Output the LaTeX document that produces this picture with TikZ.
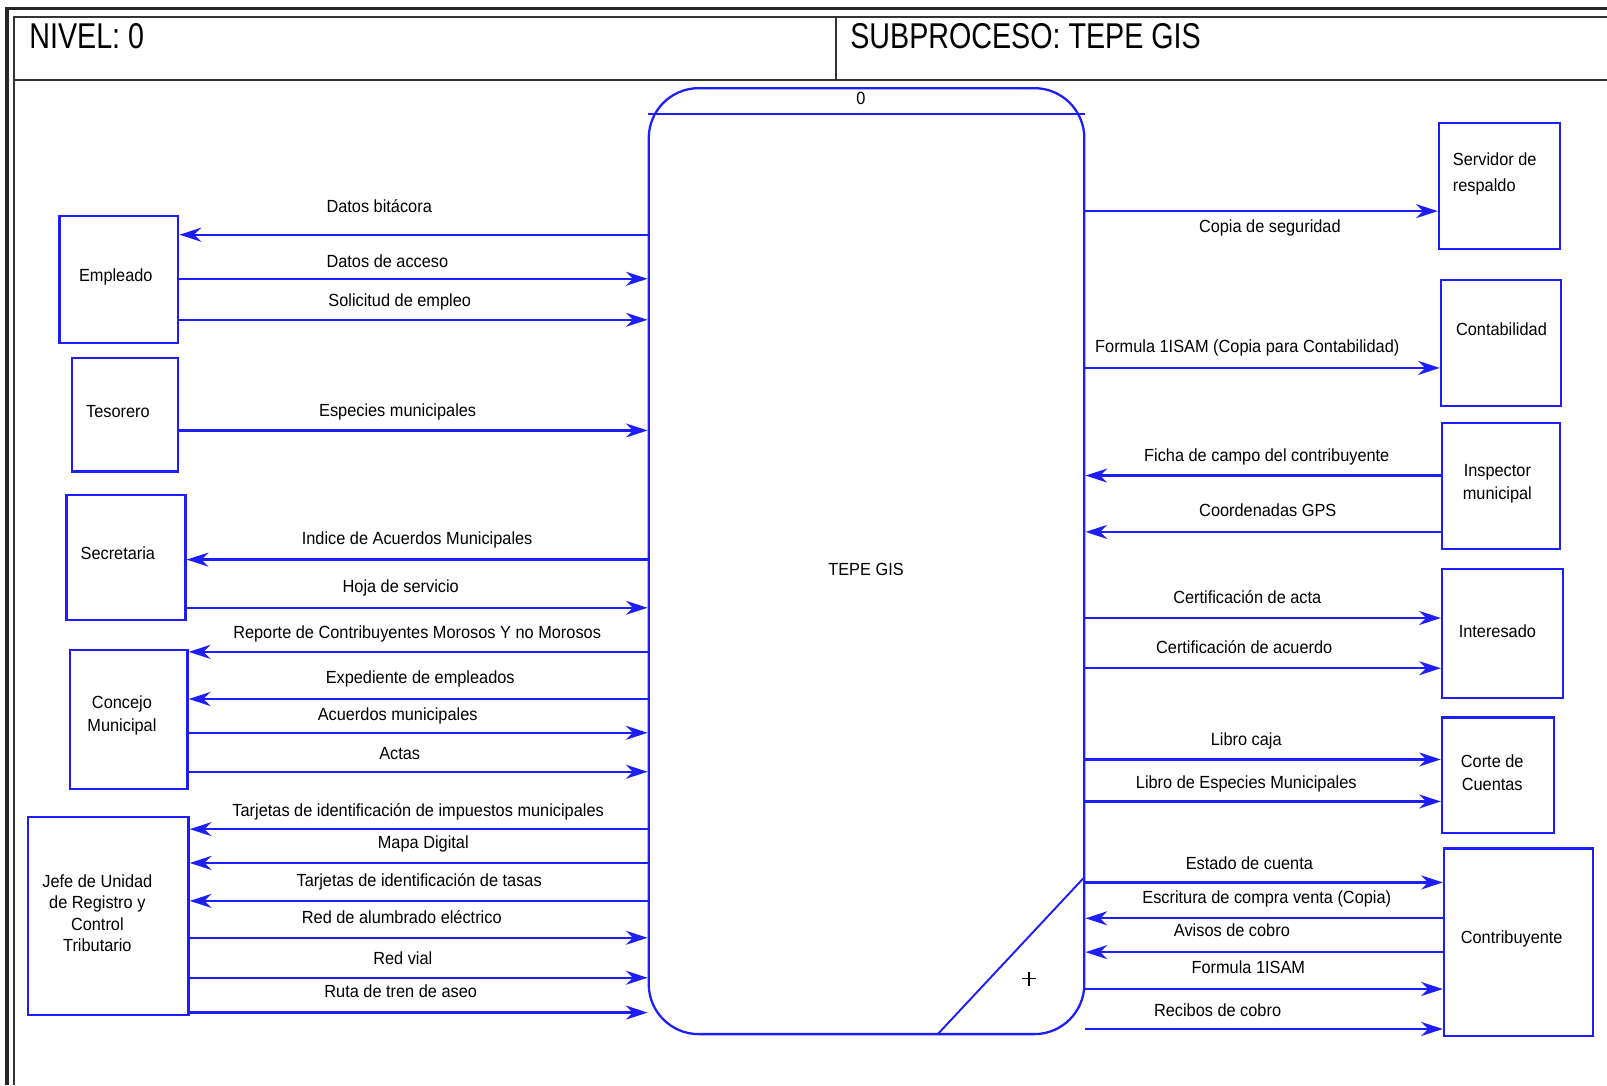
\documentclass[tikz,border=0pt]{standalone}
\usepackage{fontspec}
\setmainfont{Liberation Sans}[FakeStretch=0.93]
\newfontfamily\headfont{Liberation Sans}[FakeStretch=0.80]
\usetikzlibrary{arrows.meta,fit}
\definecolor{dfdblue}{RGB}{30,30,250}

\begin{document}
\begin{tikzpicture}[x=0.010249cm,y=-0.010249cm,
  ent/.style={draw=dfdblue,line width=0.65pt,inner sep=0pt},
  proc/.style={draw=dfdblue,line width=0.65pt,inner sep=0pt,rounded corners=0.5cm},
  etxt/.style={font=\fontsize{5}{6.7}\selectfont,align=center,inner sep=0pt},
  flab/.style={font=\fontsize{5}{6}\selectfont,inner sep=0pt,anchor=base},
  flow/.style={draw=dfdblue,line width=0.65pt,-{Stealth[length=6.2pt,width=4pt,inset=2pt]}},
  frameo/.style={draw=black!85,line width=0.9pt},
  framei/.style={draw=black!80,line width=0.6pt},
  head/.style={font=\headfont\fontsize{10.2}{12}\selectfont,inner sep=0pt,anchor=base west}]

\useasboundingbox (0,0) rectangle (1568,1059);

% sheet frame and header
\draw[frameo] (1568,8.3) -- (6.8,8.3) -- (6.8,1059);
\draw[framei] (1568,17) -- (13.3,17) -- (13.3,1059);
\draw[framei] (13.3,78) -- (1568,78);
\draw[framei] (816,17) -- (816,78);
\node[head] (nivel) at (28,47) {NIVEL: 0};
\node[head] (subp) at (829,47) {SUBPROCESO: TEPE GIS};

% central process
\node[proc,fit={(633,86)(1058,1009)}] (proc) {};
\draw[draw=dfdblue,line width=0.65pt] (632,111) -- (1059,111);
\draw[draw=dfdblue,line width=0.55pt] (915,1009) -- (1057,857);
\node[etxt] (pnum) at (840,96) {0};
\node[etxt] (pname) at (845,556) {TEPE GIS};
\draw[black,line width=0.4pt] (997,955) -- (1011,955) (1004,948) -- (1004,962);

% external entities, left
\node[ent,fit={(58,211)(174,335)}] (emp) {};
\node[ent,fit={(70,349)(174,460)}] (tes) {};
\node[ent,fit={(65,483)(181,605)}] (sec) {};
\node[ent,fit={(68,634)(183,770)}] (con) {};
\node[ent,fit={(27,797)(184,990)}] (jef) {};
\node[etxt] (empt) at (113,270) {Empleado};
\node[etxt] (test) at (115,402) {Tesorero};
\node[etxt] (sect) at (115,540) {Secretaria};
\node[etxt] (cont) at (119,698) {Concejo\\Municipal};
\node[etxt,font=\fontsize{5}{6.1}\selectfont] (jeft) at (95,891) {Jefe de Unidad\\de Registro y\\Control\\Tributario};

% external entities, right
\node[ent,fit={(1404,120)(1522,243)}] (srv) {};
\node[ent,fit={(1406,273)(1523,396)}] (cnt) {};
\node[ent,fit={(1407,413)(1522,536)}] (ins) {};
\node[ent,fit={(1407,555)(1525,681)}] (int) {};
\node[ent,fit={(1407,700)(1516,813)}] (cor) {};
\node[ent,fit={(1409,828)(1554,1011)}] (ctb) {};
\node[etxt,align=left,anchor=west,font=\fontsize{5}{7.3}\selectfont] (srvt) at (1417,170) {Servidor de\\respaldo};
\node[etxt] (cntt) at (1465,321) {Contabilidad};
\node[etxt] (inst) at (1461,472) {Inspector\\municipal};
\node[etxt] (intt) at (1461,616) {Interesado};
\node[etxt] (cort) at (1456,754) {Corte de\\Cuentas};
\node[etxt] (ctbt) at (1475,916) {Contribuyente};

% data flows, left side
\draw[flow] (proc.west |- 0,229) -- (emp.east |- 0,229);
\draw[flow] (emp.east |- 0,272) -- (proc.west |- 0,272);
\draw[flow] (emp.east |- 0,312) -- (proc.west |- 0,312);
\draw[flow] (tes.east |- 0,420) -- (proc.west |- 0,420);
\draw[flow] (proc.west |- 0,546) -- (sec.east |- 0,546);
\draw[flow] (sec.east |- 0,593) -- (proc.west |- 0,593);
\draw[flow] (proc.west |- 0,636) -- (con.east |- 0,636);
\draw[flow] (proc.west |- 0,682) -- (con.east |- 0,682);
\draw[flow] (con.east |- 0,715) -- (proc.west |- 0,715);
\draw[flow] (con.east |- 0,753) -- (proc.west |- 0,753);
\draw[flow] (proc.west |- 0,809) -- (jef.east |- 0,809);
\draw[flow] (proc.west |- 0,842) -- (jef.east |- 0,842);
\draw[flow] (proc.west |- 0,879) -- (jef.east |- 0,879);
\draw[flow] (jef.east |- 0,915) -- (proc.west |- 0,915);
\draw[flow] (jef.east |- 0,954) -- (proc.west |- 0,954);
\draw[flow] (jef.east |- 0,988) -- (proc.west |- 0,988);

\node[flab] (l1) at (370,207) {Datos bitácora};
\node[flab] (l2) at (378,261) {Datos de acceso};
\node[flab] (l3) at (390,299) {Solicitud de empleo};
\node[flab] (l4) at (388,406) {Especies municipales};
\node[flab] (l5) at (407,531) {Indice de Acuerdos Municipales};
\node[flab] (l6) at (391,578) {Hoja de servicio};
\node[flab] (l7) at (407,623) {Reporte de Contribuyentes Morosos Y no Morosos};
\node[flab] (l8) at (410,667) {Expediente de empleados};
\node[flab] (l9) at (388,703) {Acuerdos municipales};
\node[flab] (l10) at (390,741) {Actas};
\node[flab] (l11) at (408,797) {Tarjetas de identificación de impuestos municipales};
\node[flab] (l12) at (413,828) {Mapa Digital};
\node[flab] (l13) at (409,865) {Tarjetas de identificación de tasas};
\node[flab] (l14) at (392,901) {Red de alumbrado eléctrico};
\node[flab] (l15) at (393,941) {Red vial};
\node[flab] (l16) at (391,973) {Ruta de tren de aseo};

% data flows, right side
\draw[flow] (proc.east |- 0,206) -- (srv.west |- 0,206);
\draw[flow] (proc.east |- 0,359) -- (cnt.west |- 0,359);
\draw[flow] (ins.west |- 0,464) -- (proc.east |- 0,464);
\draw[flow] (ins.west |- 0,519) -- (proc.east |- 0,519);
\draw[flow] (proc.east |- 0,603) -- (int.west |- 0,603);
\draw[flow] (proc.east |- 0,652) -- (int.west |- 0,652);
\draw[flow] (proc.east |- 0,741) -- (cor.west |- 0,741);
\draw[flow] (proc.east |- 0,782) -- (cor.west |- 0,782);
\draw[flow] (proc.east |- 0,861) -- (ctb.west |- 0,861);
\draw[flow] (ctb.west |- 0,896) -- (proc.east |- 0,896);
\draw[flow] (ctb.west |- 0,929) -- (proc.east |- 0,929);
\draw[flow] (proc.east |- 0,965) -- (ctb.west |- 0,965);
\draw[flow] (proc.east |- 0,1004) -- (ctb.west |- 0,1004);

\node[flab] (r1) at (1239,227) {Copia de seguridad};
\node[flab] (r2) at (1217,344) {Formula 1ISAM (Copia para Contabilidad)};
\node[flab] (r3) at (1236,450) {Ficha de campo del contribuyente};
\node[flab] (r4) at (1237,504) {Coordenadas GPS};
\node[flab] (r5) at (1217,589) {Certificación de acta};
\node[flab] (r6) at (1214,638) {Certificación de acuerdo};
\node[flab] (r7) at (1216,727) {Libro caja};
\node[flab] (r8) at (1216,769) {Libro de Especies Municipales};
\node[flab] (r9) at (1219,848) {Estado de cuenta};
\node[flab] (r10) at (1236,882) {Escritura de compra venta (Copia)};
\node[flab] (r11) at (1202,914) {Avisos de cobro};
\node[flab] (r12) at (1218,950) {Formula 1ISAM};
\node[flab] (r13) at (1188,992) {Recibos de cobro};
\end{tikzpicture}
\end{document}
